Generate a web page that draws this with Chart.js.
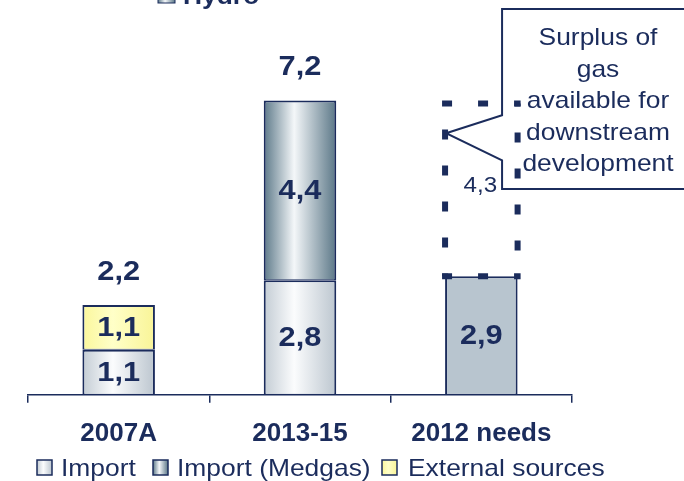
<!DOCTYPE html>
<html>
<head>
<meta charset="utf-8">
<script src="https://cdn.jsdelivr.net/npm/chart.js"></script>
<style>
  html, body { margin: 0; padding: 0; background: #fff; }
  #wrap { width: 684px; height: 481px; position: relative; }
</style>
</head>
<body>
<div id="wrap"><canvas id="gasChart"></canvas></div>
<script>
  // gas supply balance, bcm
  const categories = ['2007A', '2013-15', '2012 needs'];
  const importVals = [1.1, 2.8, null];
  const medgasVals = [null, 4.4, null];
  const externalVals = [1.1, null, null];
  const needsVals = [null, null, 2.9];
  const surplusVals = [null, null, 4.3];
  const legendNames = ['Import', 'Import (Medgas)', 'External sources'];
  const calloutLines = ['Surplus of', 'gas', 'available for', 'downstream', 'development'];

  const navy = '#1b2c5c';
  const font = "'Liberation Sans', Arial, sans-serif";
  const barPct = 0.4;
  const stretch = 1.1; // slightly wide lettering

  const importShade = ['#c3ccd4', '#fbfcfd', '#bcc6cf'];
  const medgasShade = ['#5d7989', '#f4f7f9', '#5b7787'];
  const externalShade = ['#fbf79c', '#ffffc8', '#f9f497'];

  const fmt = v => v.toFixed(1).replace('.', ',');

  function gradient(ctx, x0, x1, stops) {
    const g = ctx.createLinearGradient(x0, 0, x1, 0);
    g.addColorStop(0, stops[0]);
    g.addColorStop(0.42, stops[1]);
    g.addColorStop(1, stops[2]);
    return g;
  }

  function text(ctx, str, x, y, f) {
    ctx.save();
    ctx.font = f;
    ctx.translate(x, y);
    ctx.scale(stretch, 1);
    ctx.fillText(str, 0, 0);
    ctx.restore();
  }

  // horizontal "cylinder" shading across each bar
  function shade(stops) {
    return function(ctx) {
      const chart = ctx.chart;
      if (!chart.chartArea) return stops[1];
      const xs = chart.scales.x;
      const c = xs.getPixelForValue(ctx.dataIndex);
      const w = xs.width / categories.length * barPct;
      return gradient(chart.ctx, c - w / 2, c + w / 2, stops);
    };
  }

  const border = { top: 2, left: 2, right: 2, bottom: 1 };

  // value labels, totals, dashed surplus outline, callout and legend
  const annotate = {
    id: 'annotate',
    afterDatasetsDraw(chart) {
      const ctx = chart.ctx;
      const ys = chart.scales.y;
      ctx.save();

      const sp = chart.getDatasetMeta(4).data[2];
      const L = sp.x - sp.width / 2, R = sp.x + sp.width / 2;
      const T = sp.y + 3, B = sp.base;

      // callout box pointing at the surplus
      const tipX = L + 1, tipY = ys.getPixelForValue(6.4);
      const bx = tipX + 56, bTop = 9, bBot = 189;
      ctx.beginPath();
      ctx.moveTo(bx, tipY - 18);
      ctx.lineTo(bx, bTop);
      ctx.lineTo(700, bTop);
      ctx.lineTo(700, bBot);
      ctx.lineTo(bx, bBot);
      ctx.lineTo(bx, tipY + 27);
      ctx.lineTo(tipX, tipY);
      ctx.closePath();
      ctx.fillStyle = '#fff';
      ctx.fill();
      ctx.strokeStyle = navy;
      ctx.lineWidth = 2;
      ctx.stroke();

      ctx.fillStyle = navy;
      ctx.textAlign = 'center';
      ctx.textBaseline = 'alphabetic';
      calloutLines.forEach((t, i) => text(ctx, t, 598, 45 + i * 31.5, '24px ' + font));

      // dashed outline
      ctx.lineWidth = 6;
      ctx.lineCap = 'butt';
      ctx.setLineDash([10, 26]);
      const side = (x1, y1, x2, y2, off) => {
        ctx.lineDashOffset = off;
        ctx.beginPath();
        ctx.moveTo(x1, y1);
        ctx.lineTo(x2, y2);
        ctx.stroke();
      };
      side(L - 3, T, R + 3, T, 0);
      side(L - 3, B, R + 3, B, 0);
      side(L, T, L, B, 10);
      side(R, T, R, B, 7);
      ctx.setLineDash([]);

      // segment values
      ctx.textBaseline = 'middle';
      chart.data.datasets.forEach((ds, di) => {
        chart.getDatasetMeta(di).data.forEach((el, i) => {
          const v = ds.data[i];
          if (v == null) return;
          const mid = (el.y + el.base) / 2;
          if (di === 4) text(ctx, fmt(v), el.x - 1, mid - 2, '22px ' + font);
          else text(ctx, fmt(v), el.x, mid + 1, 'bold 28px ' + font);
        });
      });

      // stack totals
      [0, 1].forEach(i => {
        const total = importVals[i] + (medgasVals[i] || 0) + (externalVals[i] || 0);
        const x = chart.scales.x.getPixelForValue(i);
        text(ctx, fmt(total), x, ys.getPixelForValue(total) - 33, 'bold 28px ' + font);
      });

      // legend
      const items = [
        { x: 37, tx: 61, shade: importShade },
        { x: 153, tx: 177, shade: medgasShade },
        { x: 382, tx: 408, shade: externalShade }
      ];
      ctx.textAlign = 'left';
      ctx.lineWidth = 1.5;
      items.forEach((it, i) => {
        ctx.fillStyle = gradient(ctx, it.x, it.x + 15, it.shade);
        ctx.fillRect(it.x, 460, 15, 15);
        ctx.strokeStyle = navy;
        ctx.strokeRect(it.x, 460, 15, 15);
        ctx.fillStyle = navy;
        text(ctx, legendNames[i], it.tx, 469, '24px ' + font);
      });

      // legend row of the companion chart, clipped at the top edge
      ctx.fillStyle = gradient(ctx, 158, 175, medgasShade);
      ctx.fillRect(158, -12, 17, 15);
      ctx.lineWidth = 1;
      ctx.strokeRect(158, -12, 17, 15);
      ctx.fillStyle = navy;
      ctx.textBaseline = 'alphabetic';
      text(ctx, 'Hydro', 183, 4, 'bold 24px ' + font);

      ctx.restore();
    }
  };

  new Chart(document.getElementById('gasChart'), {
    type: 'bar',
    data: {
      labels: categories,
      datasets: [
        { label: legendNames[0], data: importVals, backgroundColor: shade(importShade),
          borderColor: navy, borderWidth: border, borderSkipped: false },
        { label: legendNames[1], data: medgasVals, backgroundColor: shade(medgasShade),
          borderColor: navy, borderWidth: border, borderSkipped: false },
        { label: legendNames[2], data: externalVals, backgroundColor: shade(externalShade),
          borderColor: navy, borderWidth: border, borderSkipped: false },
        { label: 'Needs', data: needsVals, backgroundColor: '#b8c5cf',
          borderColor: navy, borderWidth: border, borderSkipped: false },
        { label: 'Surplus', data: surplusVals, backgroundColor: 'rgba(0,0,0,0)', borderWidth: 0 }
      ]
    },
    options: {
      responsive: true,
      maintainAspectRatio: false,
      devicePixelRatio: 1,
      animation: false,
      datasets: { bar: { categoryPercentage: 1, barPercentage: barPct } },
      layout: { padding: { top: 27, left: 28, right: 112, bottom: 17 } },
      plugins: {
        tooltip: { enabled: false },
        legend: { display: false }
      },
      scales: {
        x: {
          stacked: true,
          grid: { display: true, drawOnChartArea: false, drawTicks: true, tickLength: 8, color: navy, lineWidth: 1.5 },
          border: { display: true, color: navy, width: 1.5 },
          ticks: { color: navy, padding: 15, font: { family: font, size: 26, weight: 'bold', lineHeight: 1.2 } }
        },
        y: {
          stacked: true,
          display: false,
          min: 0,
          max: 9
        }
      }
    },
    plugins: [annotate]
  });
</script>
</body>
</html>
